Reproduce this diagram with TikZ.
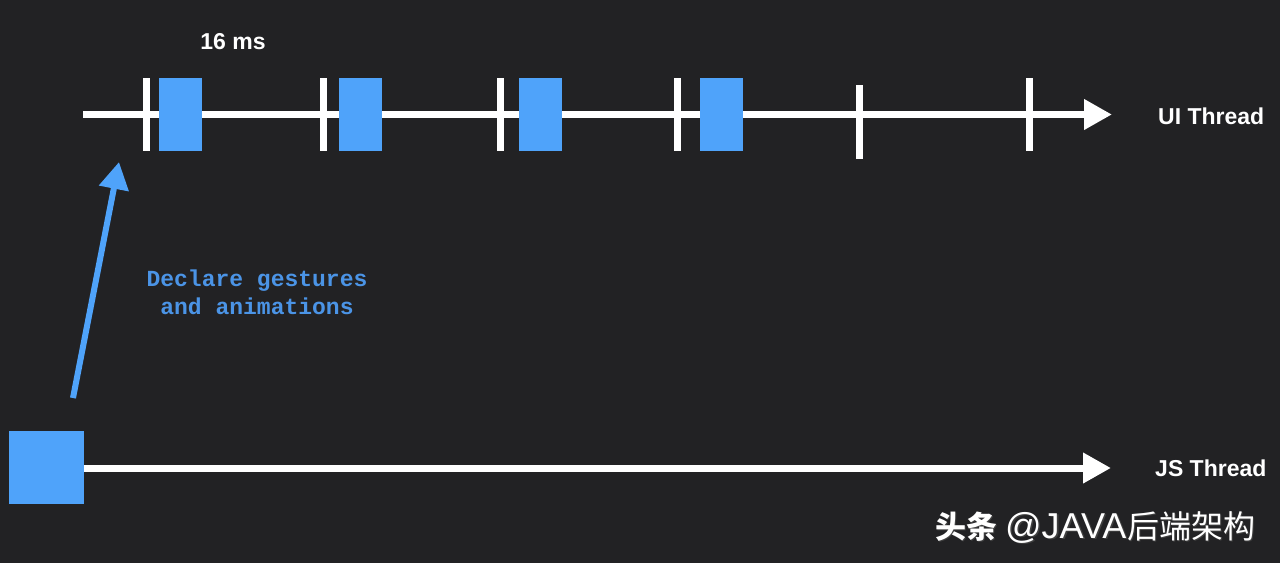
\documentclass[tikz,border=0pt]{standalone}
\usepackage{fontspec}
\setmainfont{Liberation Sans}
\newfontfamily\codefont{Liberation Mono}
\newfontfamily\cjkfont{Noto Sans CJK SC}
\usetikzlibrary{arrows.meta}
\definecolor{bg}{HTML}{222224}
\definecolor{boxblue}{HTML}{4FA3FA}
\definecolor{txtblue}{HTML}{4B94E6}
\newcommand{\wmtext}{{\cjkfont\fontsize{31pt}{34pt}\selectfont\bfseries 头条}\hspace{8pt}{\fontsize{36pt}{38pt}\selectfont @JAVA}\hspace{1pt}{\cjkfont\fontsize{32pt}{34pt}\selectfont 后端架构}}
\tikzset{
  axis/.style={draw=white, line width=7pt, -{Triangle[length=28pt,width=29pt]}},
  tick/.style={draw=white, line width=7pt},
  frame/.style={fill=boxblue, draw=none, minimum width=43pt, minimum height=73pt, inner sep=0pt},
  jsbox/.style={fill=boxblue, draw=none, minimum width=75pt, minimum height=73pt, inner sep=0pt},
  label/.style={text=white, font=\fontsize{23pt}{26pt}\selectfont\bfseries, inner sep=0pt},
  gesture/.style={draw=boxblue, line width=6pt, -{Triangle[length=27pt,width=29pt]}},
  wm/.style={anchor=west, inner sep=0pt},
}
\begin{document}
\begin{tikzpicture}[x=1pt,y=-1pt]
\useasboundingbox[fill=bg] (0,0) rectangle (1280,563);
% UI thread axis
\coordinate (uistart) at (83,114.5);
\coordinate (uiend) at (1112,114.5);
\draw[axis] (uistart) -- (uiend);
% ticks
\foreach \x/\n in {146/t1,323/t2,500/t3,677/t4,1029/t6}{
  \coordinate (\n top) at (\x,78);
  \coordinate (\n bot) at (\x,151);
  \draw[tick] (\n top) -- (\n bot);
}
\coordinate (t5top) at (859,85);
\coordinate (t5bot) at (859,159);
\draw[tick] (t5top) -- (t5bot);
% frames
\node[frame] (f1) at (180.5,114.5) {};
\node[frame] (f2) at (360.5,114.5) {};
\node[frame] (f3) at (540.5,114.5) {};
\node[frame] (f4) at (721.5,114.5) {};
% labels
\node[label] (ms) at (233,42) {16 ms};
\node[label, anchor=west] (ui) at (1158,116) {UI Thread};
% JS thread
\node[jsbox] (js) at (46.5,467.5) {};
\coordinate (jsend) at (1111,468);
\draw[axis] (js.east |- jsend) -- (jsend);
\node[label, anchor=west] (jsl) at (1155,468) {JS Thread};
% gesture arrow
\coordinate (gstart) at (73,398);
\coordinate (gend) at (119,162);
\draw[gesture] (gstart) -- (gend);
\node[text=txtblue, font=\codefont\fontsize{23pt}{28pt}\selectfont\bfseries, align=center, inner sep=0pt] (decl) at (257,292) {Declare gestures\\and animations};
% watermark
\node[wm, text=black!75] (wms) at (936.5,529) {\wmtext};
\node[wm, text=white] (wmk) at (935,527.5) {\wmtext};
\end{tikzpicture}
\end{document}
